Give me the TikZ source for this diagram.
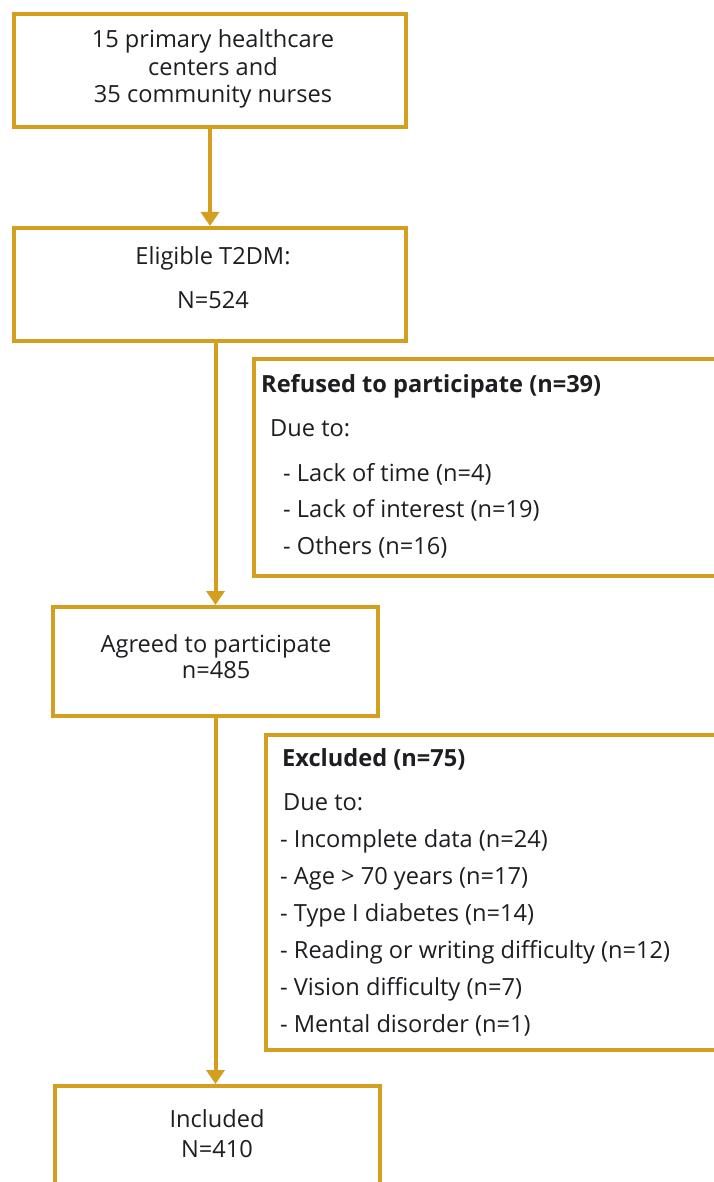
\documentclass[tikz,border=0pt]{standalone}
\usepackage{fontspec}
\setmainfont{Open Sans}
\usetikzlibrary{arrows.meta}
\definecolor{gold}{RGB}{212,159,30}
\definecolor{ink}{RGB}{30,30,34}
\begin{document}
\begin{tikzpicture}[x=1pt,y=-1pt,
  box/.style={draw=gold, line width=4pt, rectangle, inner sep=0pt},
  txt/.style={font=\fontsize{23.6}{28}\selectfont, text=ink, inner sep=0pt},
  btxt/.style={font=\fontsize{23.6}{28}\selectfont\bfseries, text=ink, inner sep=0pt},
  arr/.style={draw=gold, line width=4pt, -{Triangle[length=14pt,width=18pt]}}]
\useasboundingbox (0,0) rectangle (714,1182);
\clip (0,0) rectangle (714,1182);
\fill[white] (0,0) rectangle (714,1182);

% boxes
\node[box, minimum width=392pt, minimum height=113pt] (b1) at (210,70.5) {};
\node[box, minimum width=392pt, minimum height=113pt] (b2) at (210,284.5) {};
\node[box, minimum width=506pt, minimum height=217pt] (ref) at (507,467.5) {};
\node[box, minimum width=325pt, minimum height=109pt] (b3) at (215.5,661.5) {};
\node[box, minimum width=494pt, minimum height=315pt] (exc) at (513,892.5) {};
\node[box, minimum width=325pt, minimum height=114pt] (b4) at (217.5,1143) {};

% texts
\node[txt, anchor=base] (t1a) at (213,48) {15 primary healthcare};
\node[txt, anchor=base] (t1b) at (213,76) {centers and};
\node[txt, anchor=base] (t1c) at (213,103) {35 community nurses};

\node[txt, anchor=base] (t2a) at (213,265) {Eligible T2DM:};
\node[txt, anchor=base] (t2b) at (213,308) {N=524};

\node[btxt, anchor=base west] (r0) at (261,392) {Refused to participate (n=39)};
\node[txt, anchor=base west] (r1) at (270,436) {Due to:};
\node[txt, anchor=base west] (r2) at (283,481) {- Lack of time (n=4)};
\node[txt, anchor=base west] (r3) at (283,517) {- Lack of interest (n=19)};
\node[txt, anchor=base west] (r4) at (283,554) {- Others (n=16)};

\node[txt, anchor=base] (t3a) at (216,652) {Agreed to participate};
\node[txt, anchor=base] (t3b) at (216,678) {n=485};

\node[btxt, anchor=base west] (e0) at (282,766) {Excluded (n=75)};
\node[txt, anchor=base west] (e1) at (283,810) {Due to:};
\node[txt, anchor=base west] (e2) at (280,847) {- Incomplete data (n=24)};
\node[txt, anchor=base west] (e3) at (280,884) {- Age > 70 years (n=17)};
\node[txt, anchor=base west] (e4) at (280,921) {- Type I diabetes (n=14)};
\node[txt, anchor=base west] (e5) at (280,958) {- Reading or writing difficulty (n=12)};
\node[txt, anchor=base west] (e6) at (280,995) {- Vision difficulty (n=7)};
\node[txt, anchor=base west] (e7) at (280,1032) {- Mental disorder (n=1)};

\node[txt, anchor=base] (t4a) at (217,1127) {Included};
\node[txt, anchor=base] (t4b) at (217,1157) {N=410};

% arrows
\draw[arr] (b1.south) -- (b2.north);
\draw[arr] (b2.south -| b3.north) -- (b3.north);
\draw[arr] (b3.south) -- (b3.south |- b4.north);
\end{tikzpicture}
\end{document}
